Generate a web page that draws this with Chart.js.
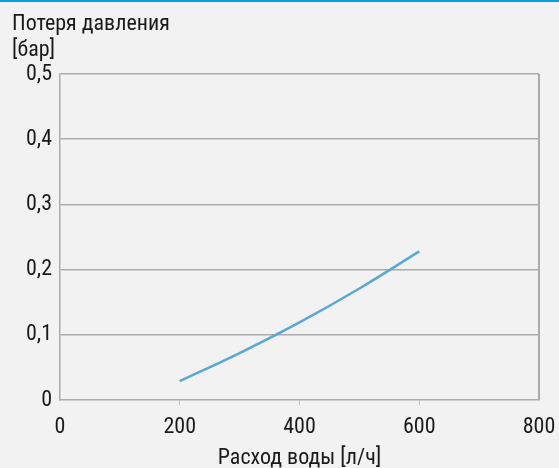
<!DOCTYPE html>
<html><head><meta charset="utf-8">
<script src="https://cdn.jsdelivr.net/npm/chart.js@4/dist/chart.umd.min.js"></script>
<style>
html,body{margin:0;padding:0;background:#f2f2f2;}
#wrap{position:relative;width:559px;height:468px;background:#f2f2f2;border-top:2px solid #00a0e3;box-sizing:border-box;}
canvas{position:absolute;left:0;top:-2px;}
</style></head>
<body>
<div id="wrap"><canvas id="c" width="559" height="468"></canvas></div>
<script>
const flowValues = [200, 300, 400, 500, 600];
const pressureLoss = [0.029, 0.072, 0.119, 0.171, 0.228];
const yTitleLines = ['Потеря давления', '[бар]'];
const xTitle = 'Расход воды [л/ч]';

const FONT = "'Liberation Sans Narrow', 'Roboto Condensed', Roboto, sans-serif";
const TEXT = '#1a1a1a';
const GRID = '#ababab';
const FS = 22;

const titlePlugin = {
  id: 'ytitle',
  afterDraw(chart) {
    const ctx = chart.ctx;
    ctx.save();
    ctx.font = FS + 'px ' + FONT;
    ctx.fillStyle = TEXT;
    ctx.textAlign = 'left';
    ctx.textBaseline = 'alphabetic';
    ctx.fillText(yTitleLines[0], 12, 30);
    ctx.fillText(yTitleLines[1], 12, 56);
    ctx.restore();
  }
};

new Chart(document.getElementById('c'), {
  type: 'line',
  data: {
    datasets: [{
      data: flowValues.map((x, i) => ({x: x, y: pressureLoss[i]})),
      borderColor: '#5aa7d4',
      borderWidth: 2.5,
      pointRadius: 0,
      tension: 0.4,
      fill: false
    }]
  },
  options: {
    responsive: false,
    animation: false,
    layout: {padding: {left: 0, top: 74, right: 20, bottom: 0}},
    plugins: {legend: {display: false}, tooltip: {enabled: false}},
    scales: {
      x: {
        type: 'linear', min: 0, max: 800,
        afterFit(s) { s.height = 68; s.paddingLeft = 0; s.paddingRight = 0; },
        ticks: {stepSize: 200, color: TEXT, font: {size: FS, family: FONT}, padding: 9, maxRotation: 0},
        grid: {
          drawOnChartArea: true,
          color: c => (c.tick && c.tick.value === 800) ? GRID : 'transparent',
          lineWidth: c => (c.tick && c.tick.value === 800) ? 2 : 1,
          tickColor: c => (c.tick && c.tick.value > 0 && c.tick.value < 800) ? '#c4c4c4' : 'transparent',
          tickLength: 5
        },
        border: {display: true, color: GRID, width: 1.5},
        title: {display: true, text: xTitle, color: TEXT, font: {size: FS, family: FONT}, padding: {top: 7, bottom: -4}}
      },
      y: {
        type: 'linear', min: 0, max: 0.5,
        afterFit(s) { s.width = 60; s.paddingTop = 0; s.paddingBottom = 0; },
        ticks: {
          stepSize: 0.1, color: TEXT, font: {size: FS, family: FONT}, padding: 8,
          callback: v => v === 0 ? '0' : v.toFixed(1).replace('.', ',')
        },
        grid: {
          color: c => (c.tick && c.tick.value > 0) ? GRID : 'transparent',
          lineWidth: 1.5,
          drawTicks: false
        },
        border: {display: true, color: GRID, width: 1.5}
      }
    }
  },
  plugins: [titlePlugin]
});
</script>
</body></html>
